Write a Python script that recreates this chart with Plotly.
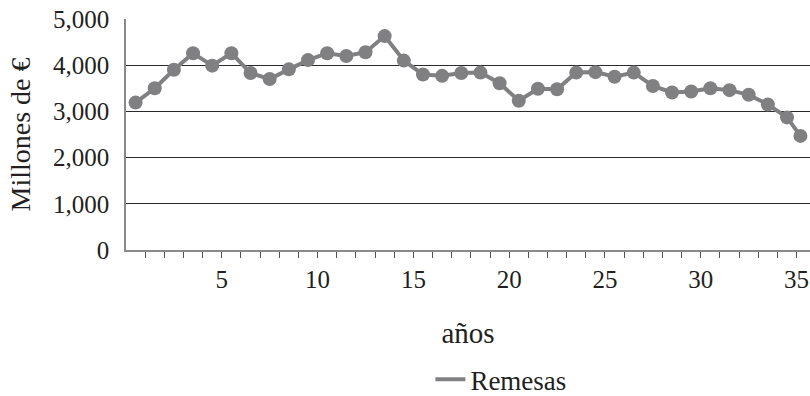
import plotly.graph_objects as go

# Data
periodo = [0.5, 1.5, 2.5, 3.5, 4.5, 5.5, 6.5, 7.5, 8.5, 9.5,
           10.5, 11.5, 12.5, 13.5, 14.5, 15.5, 16.5, 17.5, 18.5, 19.5,
           20.5, 21.5, 22.5, 23.5, 24.5, 25.5, 26.5, 27.5, 28.5, 29.5,
           30.5, 31.5, 32.5, 33.5, 34.5, 35.2]
remesas = [3190, 3500, 3900, 4260, 3990, 4260, 3830, 3700, 3910, 4110,
           4260, 4200, 4280, 4630, 4100, 3800, 3770, 3830, 3840, 3610,
           3230, 3490, 3480, 3840, 3850, 3750, 3840, 3550, 3410, 3430,
           3500, 3460, 3360, 3150, 2870, 2470]
x_ticks = list(range(1, 36))
x_ticktext = [str(t) if t % 5 == 0 else "" for t in x_ticks]
y_ticks = [0, 1000, 2000, 3000, 4000, 5000]
y_ticktext = ["0", "1,000", "2,000", "3,000", "4,000", "5,000"]

GRAY = "#808083"
TEXT = "#231f20"
FONT = "'Liberation Serif', 'Times New Roman', serif"

fig = go.Figure()
fig.add_trace(go.Scatter(
    x=periodo, y=remesas, mode="lines+markers",
    line=dict(color=GRAY, width=4),
    marker=dict(color=GRAY, size=14),
    showlegend=False, cliponaxis=False,
))
fig.add_trace(go.Scatter(
    x=[None], y=[None], mode="lines", name="Remesas",
    line=dict(color=GRAY, width=4), showlegend=True,
))

fig.update_layout(
    width=810, height=396,
    margin=dict(l=126, r=0, t=19, b=146, autoexpand=False),
    paper_bgcolor="white", plot_bgcolor="white",
    font=dict(family=FONT, color=TEXT, size=25),
    legend=dict(orientation="h", x=0.445, xanchor="left", y=-0.562,
                yanchor="middle", font=dict(family=FONT, size=27),
                bgcolor="rgba(0,0,0,0)", borderwidth=0,
                tracegroupgap=0, itemwidth=30),
)
fig.update_xaxes(
    range=[0, 35.7], tickmode="array", tickvals=x_ticks, ticktext=x_ticktext,
    ticks="outside", ticklen=6, tickcolor="#555", tickwidth=1,
    showline=True, linecolor="#8a8a8a", linewidth=1.5,
    showgrid=False, zeroline=False, automargin=False,
    tickfont=dict(family=FONT, size=25),
    title=dict(text="años", font=dict(family=FONT, size=29), standoff=31),
)
fig.update_yaxes(
    range=[0, 5000], tickmode="array", tickvals=y_ticks, ticktext=y_ticktext,
    ticks="", showline=True, linecolor="#8a8a8a", linewidth=1.5,
    showgrid=True, gridcolor="#2a2a2a", gridwidth=1, zeroline=False,
    automargin=False,
    tickfont=dict(family=FONT, size=25), ticklabelstandoff=10,
    title=dict(text="Millones de €", font=dict(family=FONT, size=28), standoff=14),
)

fig.write_html("out.html")
